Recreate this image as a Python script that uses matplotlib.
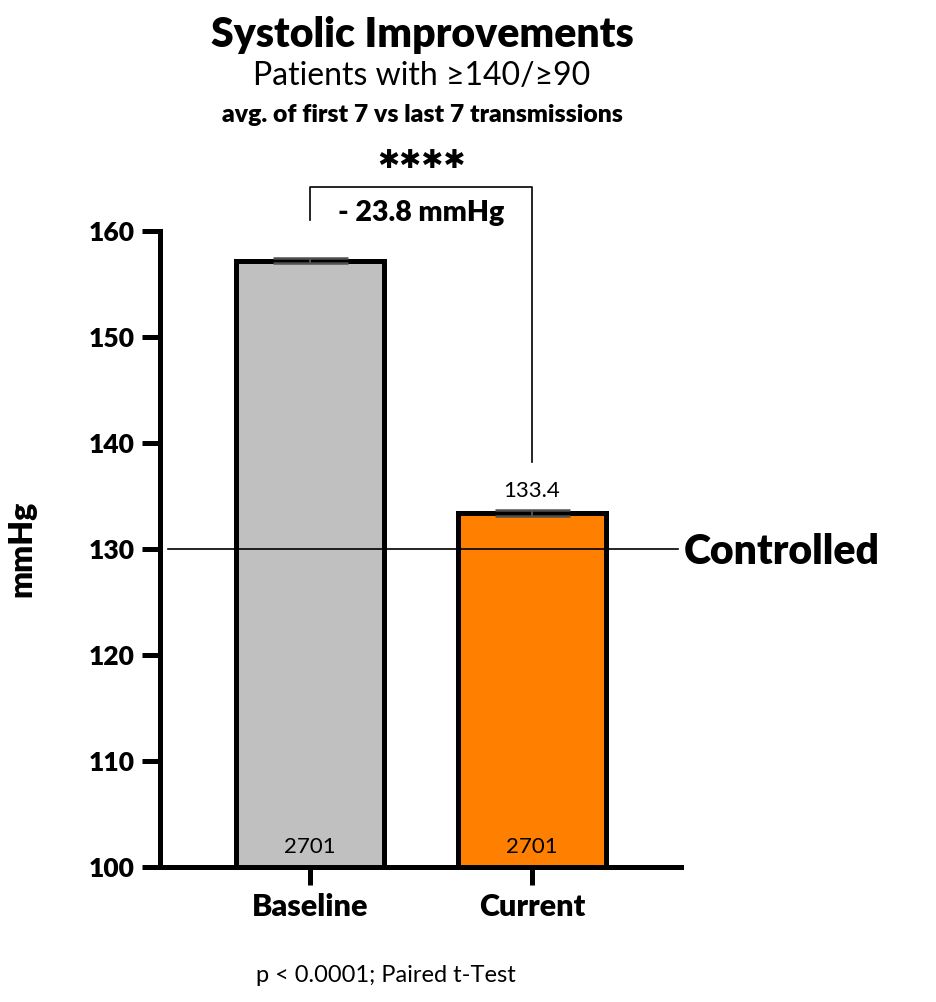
import matplotlib
matplotlib.use("Agg")
import matplotlib.pyplot as plt

categories = ["Baseline", "Current"]
means = [157.2, 133.4]
sem = [0.25, 0.3]
counts = [2701, 2701]
bar_colors = ["#C0C0C0", "#FF7F00"]
controlled_level = 130
yticks = [100, 110, 120, 130, 140, 150, 160]
diff_label = "- 23.8 mmHg"
value_label = "133.4"

W, H = 936, 1002
fig = plt.figure(figsize=(W / 100, H / 100), dpi=100)
fig.patch.set_facecolor("white")

FONT = ["Lato", "DejaVu Sans"]
plt.rcParams["font.family"] = FONT
HEAVY = 800

def fx(px):
    return px / W

def fy(py):
    return 1 - py / H

ax = fig.add_axes([fx(160), fy(867), fx(681) - fx(160), fy(231) - fy(867)])
x = list(range(len(categories)))
ax.bar(x, means, width=0.667, color=bar_colors, edgecolor="black", linewidth=3.6, zorder=2)
ax.errorbar(x, means, yerr=sem, fmt="none", ecolor="#505050", elinewidth=1.5, capsize=27, capthick=1.8, zorder=3)
ax.set_xlim(-0.676, 1.671)
ax.set_ylim(100, 160)
ax.set_yticks(yticks)
ax.set_yticklabels([str(t) for t in yticks], fontsize=19, fontweight=HEAVY)
ax.set_xticks(x)
ax.set_xticklabels(categories, fontsize=22, fontweight=HEAVY)
for s in ["top", "right"]:
    ax.spines[s].set_visible(False)
for s in ["left", "bottom"]:
    ax.spines[s].set_linewidth(3.6)
ax.tick_params(axis="both", width=3.6, length=13, pad=5)
ax.tick_params(axis="x", pad=6)
ax.set_ylabel("mmHg", fontsize=23, fontweight=HEAVY, labelpad=38)

ax.axhline(controlled_level, xmin=0.015, xmax=0.995, color="black", linewidth=1.2, zorder=4)
ax.text(1.685, controlled_level - 0.3, "Controlled", fontsize=29.5, fontweight=HEAVY,
        va="center", ha="left", clip_on=False)

for i, c in enumerate(counts):
    ax.text(i, 100.9, str(c), ha="center", va="bottom", fontsize=16, zorder=5)
ax.text(1, means[1] + sem[1] + 0.8, value_label, ha="center", va="bottom", fontsize=16)

# significance bracket
top = 164.15
ax.plot([0, 0, 1, 1], [161.0, top, top, 138.2], color="black", linewidth=1.2, clip_on=False)
ax.text(0.5, 161.7, diff_label, ha="center", va="center", fontsize=20.5, fontweight=HEAVY, clip_on=False)
ax.text(0.5, 166.6, "✱✱✱✱", ha="center", va="center", fontsize=19, family="DejaVu Sans", clip_on=False)

fig.text(fx(422), fy(35), "Systolic Improvements", ha="center", va="center", fontsize=29.5, fontweight=HEAVY)
fig.text(fx(422), fy(76), "Patients with ≥140/≥90", ha="center", va="center", fontsize=23)
fig.text(fx(422), fy(115), "avg. of first 7 vs last 7 transmissions", ha="center", va="center", fontsize=17.8, fontweight=HEAVY)
fig.text(fx(386), fy(975), "p < 0.0001; Paired t-Test", ha="center", va="center", fontsize=17)

fig.savefig("out.png", dpi=100, facecolor="white")
